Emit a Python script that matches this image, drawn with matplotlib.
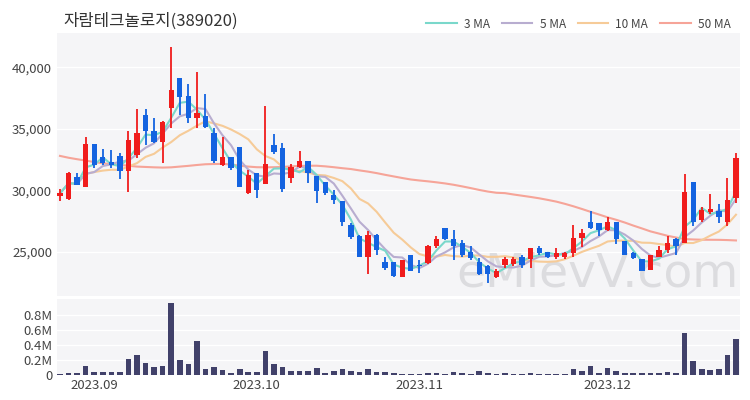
import numpy as np
import pandas as pd
import matplotlib
matplotlib.use("Agg")
import matplotlib.pyplot as plt
from matplotlib.lines import Line2D
from matplotlib.ticker import FuncFormatter

plt.rcParams['font.family'] = ['Noto Sans CJK KR', 'DejaVu Sans']

# 일봉 데이터 (2023-08-28 ~ 2023-12-22), 그림에서 읽은 값
opens = [29550, 29300, 31100, 30300, 33750, 32750, 32300, 32800, 31600, 32900,
         36100, 34850, 33950, 36700, 39100, 37650, 35850, 36050, 34650, 32050,
         32700, 33550, 29750, 31400, 30550, 33700, 33450, 31000, 31900, 32350,
         31150, 30700, 29650, 29100, 27200, 26300, 24600, 26400, 24200, 24200,
         22950, 24750, 23900, 24050, 25500, 26900, 26050, 25700, 25000, 24200,
         23850, 22950, 23950, 24000, 24600, 24400, 25300, 24950, 24550, 24550,
         24900, 26100, 27400, 27300, 26800, 27450, 25850, 24900, 24400, 23550,
         24600, 25150, 26050, 25750, 30650, 27550, 28200, 28350, 27400, 29350]
highs = [30100, 31500, 31400, 34300, 33750, 33400, 33300, 33000, 34850, 36650,
         36650, 35850, 35600, 41650, 39100, 38650, 39600, 37850, 35050, 34350,
         32700, 33550, 31650, 31400, 36850, 34600, 33850, 32150, 33200, 32350,
         31150, 30700, 30050, 29150, 27350, 26400, 26650, 26450, 24600, 24200,
         24350, 24750, 24350, 25550, 26250, 26950, 26800, 25950, 25450, 24500,
         23950, 23600, 24600, 24600, 24700, 25300, 25450, 25000, 25300, 25000,
         27200, 26850, 28300, 27300, 27800, 27450, 25850, 25000, 24400, 24750,
         25450, 26250, 26100, 31300, 30650, 28650, 29700, 28850, 31000, 33000]
lows = [29150, 29250, 30400, 30300, 31800, 32050, 31800, 30900, 29900, 32600,
        33700, 33850, 32250, 35100, 36150, 35450, 35050, 35050, 32250, 32000,
        31650, 30250, 29700, 29350, 30500, 32950, 29850, 30600, 31850, 30600,
        28950, 29650, 28900, 27100, 26050, 24600, 23200, 24750, 23500, 22950,
        22950, 23400, 23250, 24000, 25300, 25950, 24350, 24600, 24350, 23100,
        22450, 22850, 23650, 23850, 23650, 23650, 24750, 24480, 24400, 24400,
        24600, 25400, 26850, 26250, 26650, 25650, 24750, 24400, 23400, 23500,
        24550, 24900, 24750, 25750, 27100, 27450, 28100, 27350, 27100, 28950]
closes = [29750, 31400, 30450, 33750, 32070, 32200, 32100, 31600, 34100, 34700,
          34800, 33950, 35550, 38200, 37600, 35850, 36250, 35150, 32400, 32700,
          31800, 30300, 31250, 30050, 32150, 33100, 30100, 31900, 32400, 31400,
          29950, 29800, 29200, 27450, 26200, 24600, 26400, 25150, 23700, 23050,
          24350, 23400, 23850, 25450, 26050, 26000, 25450, 24750, 24500, 23200,
          23200, 23400, 24400, 24400, 23950, 25300, 24900, 24550, 24900, 24900,
          26100, 26500, 26950, 26800, 27450, 26050, 24750, 24500, 23400, 24750,
          25150, 25700, 25500, 29900, 27400, 28400, 28450, 27800, 29250, 32600]
volumes = [0.015, 0.022, 0.022, 0.124, 0.044, 0.036, 0.036, 0.036, 0.213, 0.267,
           0.156, 0.111, 0.120, 0.956, 0.196, 0.151, 0.453, 0.080, 0.111, 0.071,
           0.027, 0.084, 0.036, 0.044, 0.320, 0.147, 0.102, 0.049, 0.058, 0.053,
           0.089, 0.027, 0.049, 0.080, 0.049, 0.040, 0.076, 0.036, 0.036, 0.022,
           0.018, 0.018, 0.013, 0.027, 0.027, 0.018, 0.044, 0.027, 0.018, 0.049,
           0.022, 0.018, 0.022, 0.013, 0.013, 0.022, 0.013, 0.009, 0.009, 0.009,
           0.080, 0.058, 0.124, 0.031, 0.089, 0.049, 0.031, 0.031, 0.031, 0.031,
           0.031, 0.044, 0.027, 0.564, 0.191, 0.084, 0.062, 0.076, 0.267, 0.480]
# 50일 이동평균 (이전 데이터가 필요하므로 그림에서 직접 읽음)
ma50 = [32800, 32650, 32530, 32420, 32300, 32200, 32130, 32070, 32000, 31930,
        31900, 31870, 31850, 31870, 31930, 31990, 32060, 32120, 32140, 32150,
        32100, 32000, 31930, 31880, 31870, 31880, 31900, 31950, 31980, 32000,
        32000, 31950, 31880, 31800, 31730, 31620, 31520, 31400, 31260, 31130,
        31000, 30880, 30800, 30730, 30650, 30560, 30450, 30320, 30180, 30030,
        29900, 29800, 29770, 29660, 29560, 29460, 29350, 29220, 29080, 28900,
        28700, 28480, 28250, 28030, 27800, 27600, 27380, 27130, 26900, 26660,
        26480, 26300, 26160, 26030, 26000, 25980, 25975, 25970, 25950, 25920]

tick_pos = [4, 23, 42, 64]
tick_labels = ["2023.09", "2023.10", "2023.11", "2023.12"]

df = pd.DataFrame({"open": opens, "high": highs, "low": lows,
                   "close": closes, "vol": np.array(volumes) * 1e6})
df["ma3"] = df["close"].rolling(3, min_periods=1).mean()
df["ma5"] = df["close"].rolling(5, min_periods=1).mean()
df["ma10"] = df["close"].rolling(10, min_periods=1).mean()
df["ma50"] = ma50
x = np.arange(len(df))

UP, DOWN = "#f01c1c", "#1463e0"
BG = "#f5f5f7"
TXT = "#444444"
ma_colors = {"ma3": "#7ad8cb", "ma5": "#b8add0", "ma10": "#f6cb98", "ma50": "#f6a498"}

fig = plt.figure(figsize=(7.5, 4), dpi=100)
ax = fig.add_axes([0.076, 0.26, 0.911, 0.6575])
axv = fig.add_axes([0.076, 0.06, 0.911, 0.1925], sharex=ax)

for a in (ax, axv):
    a.set_facecolor(BG)
    for s in a.spines.values():
        s.set_visible(False)
    a.grid(axis="y", color="white", linewidth=1)
    a.set_axisbelow(True)
    a.tick_params(length=0, labelsize=9.5, labelcolor=TXT)

ax.text(0.585, 0.035, "eMievV.com", transform=ax.transAxes, fontsize=34,
        color="#dcdcdf", family="DejaVu Sans", zorder=1)

# 이동평균선
for key in ["ma50", "ma10", "ma5", "ma3"]:
    ax.plot(x, df[key], color=ma_colors[key], lw=1.5, zorder=2)

# 캔들
for i, r in df.iterrows():
    c = UP if r["close"] >= r["open"] else DOWN
    ax.vlines(i, r["low"], r["high"], color=c, lw=1.3, zorder=3)
    lo, hi = sorted([r["open"], r["close"]])
    ax.bar(i, max(hi - lo, 80), bottom=lo, width=0.62, color=c, zorder=4)

ax.set_ylim(21400, 42800)
ax.set_yticks([25000, 30000, 35000, 40000])
ax.yaxis.set_major_formatter(FuncFormatter(lambda v, p: f"{int(v):,}"))
ax.set_xlim(-0.35, 79.5)
plt.setp(ax.get_xticklabels(), visible=False)

# 거래량
axv.bar(x, df["vol"], width=0.66, color="#41416a", zorder=3)
axv.set_ylim(-0.013e6, 1.013e6)
axv.set_yticks([0, 0.2e6, 0.4e6, 0.6e6, 0.8e6])
axv.set_yticklabels(["0", "0.2M", "0.4M", "0.6M", "0.8M"])
axv.set_xticks(tick_pos)
axv.set_xticklabels(tick_labels)
axv.tick_params(axis="x", pad=2)

fig.text(0.084, 0.948, "자람테크놀로지(389020)", fontsize=12, color="#333333", va="center")

handles = [Line2D([], [], color=ma_colors[k], lw=1.5) for k in ["ma3", "ma5", "ma10", "ma50"]]
fig.legend(handles, ["3 MA", "5 MA", "10 MA", "50 MA"], loc="center right",
           bbox_to_anchor=(0.988, 0.94), ncol=4, frameon=False, fontsize=8.5,
           handlelength=2.6, columnspacing=1.0, handletextpad=0.6, labelcolor=TXT)

fig.savefig("out.png", dpi=100, facecolor="white")
